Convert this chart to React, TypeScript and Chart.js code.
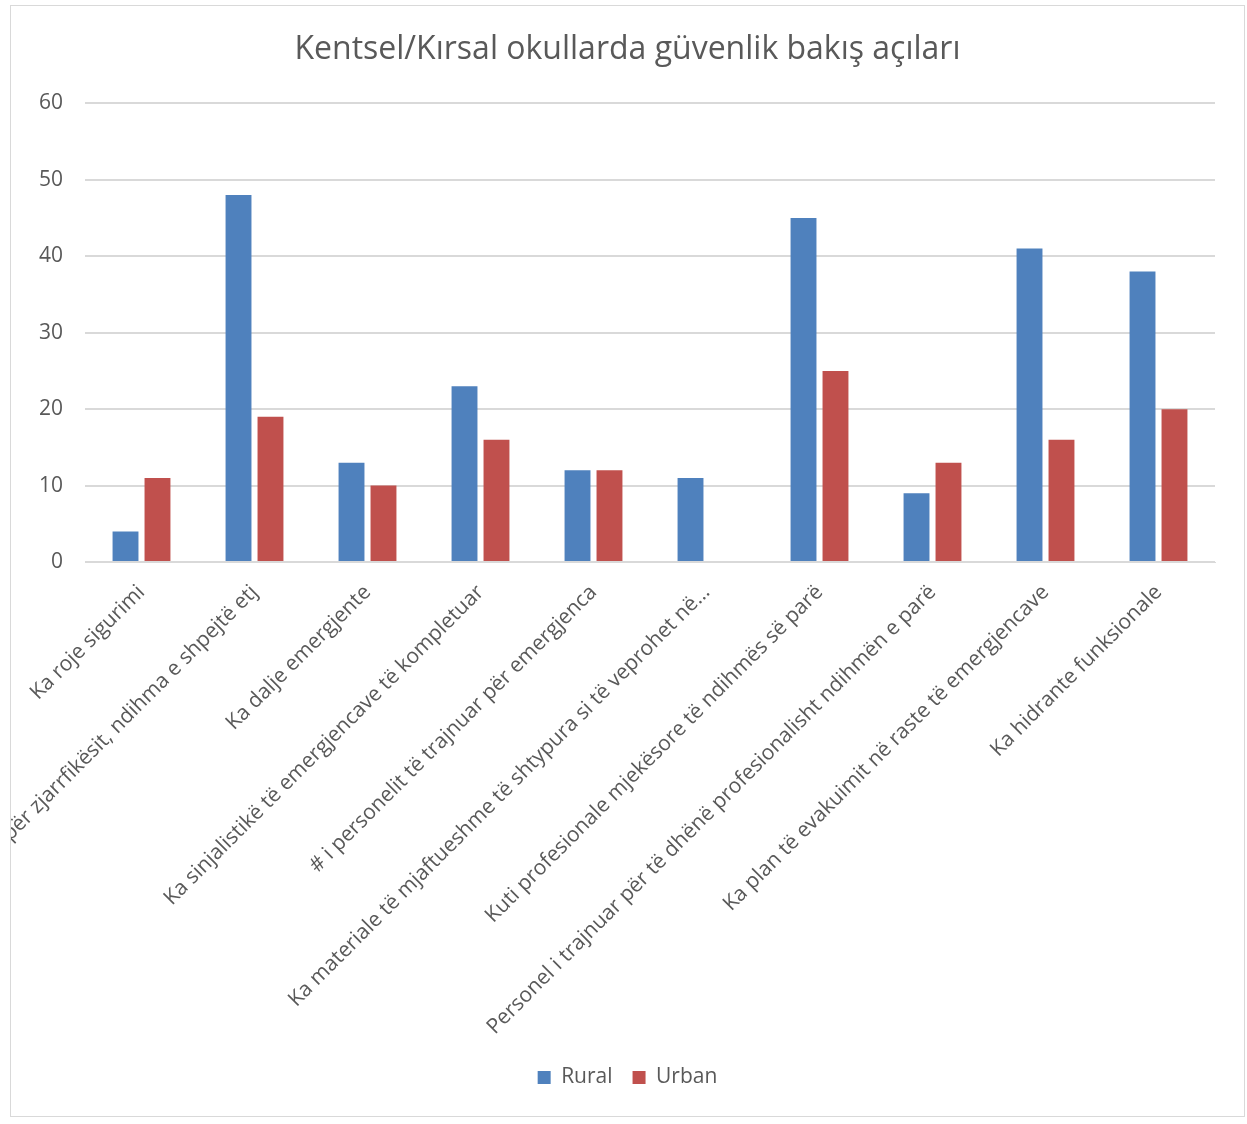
import { useEffect, useRef } from "react";
import { Chart, registerables } from "chart.js";

Chart.register(...registerables);

const chartTitle = "Kentsel/Kırsal okullarda güvenlik bakış açıları";

const categories = [
  "Ka roje sigurimi",
  "Ka numrat e telefonit për zjarrfikësit, ndihma e shpejtë etj",
  "Ka dalje emergjente",
  "Ka sinjalistikë të emergjencave të kompletuar",
  "# i personelit të trajnuar për emergjenca",
  "Ka materiale të mjaftueshme të shtypura si të veprohet në…",
  "Kuti profesionale mjekësore të ndihmës së parë",
  "Personel i trajnuar për të dhënë profesionalisht ndihmën e parë",
  "Ka plan të evakuimit në raste të emergjencave",
  "Ka hidrante funksionale",
];

const ruralValues = [4, 48, 13, 23, 12, 11, 45, 9, 41, 38];
const urbanValues = [11, 19, 10, 16, 12, 0, 25, 13, 16, 20];

const yTicks = [0, 10, 20, 30, 40, 50, 60];

const FONT = "'Open Sans', 'Noto Sans', sans-serif";
const TEXT = "#595959";
const GRID = "#d9d9d9";

export default function App() {
  const ref = useRef<HTMLCanvasElement>(null);

  useEffect(() => {
    const canvas = ref.current;
    if (!canvas) return;
    const chart = new Chart(canvas, {
      type: "bar",
      data: {
        labels: categories,
        datasets: [
          {
            label: "Rural",
            data: ruralValues,
            backgroundColor: "#4F81BD",
            categoryPercentage: 0.566,
            barPercentage: 0.81,
          },
          {
            label: "Urban",
            data: urbanValues,
            backgroundColor: "#C0504D",
            categoryPercentage: 0.566,
            barPercentage: 0.81,
          },
        ],
      },
      options: {
        responsive: false,
        animation: false,
        layout: { padding: { left: 0, right: 0, top: 0, bottom: 18 } },
        plugins: {
          tooltip: { enabled: false },
          title: {
            display: true,
            text: chartTitle,
            color: TEXT,
            font: { family: FONT, size: 32, weight: "normal" },
            padding: { top: 25, bottom: 34 },
          },
          legend: {
            position: "bottom",
            labels: {
              color: TEXT,
              font: { family: FONT, size: 21 },
              boxWidth: 13,
              boxHeight: 13,
              padding: 20,
            },
          },
        },
        scales: {
          x: {
            grid: { display: false },
            border: { display: true, color: GRID },
            ticks: {
              color: TEXT,
              font: { family: FONT, size: 21 },
              minRotation: 45,
              maxRotation: 45,
              autoSkip: false,
              padding: 10,
            },
            afterFit: (scale: any) => {
              scale.height = 485;
              scale.paddingRight = 29;
            },
          },
          y: {
            min: 0,
            max: 60,
            grid: { color: GRID, lineWidth: 2, drawTicks: false },
            border: { display: false },
            ticks: {
              color: TEXT,
              font: { family: FONT, size: 21 },
              padding: 22,
            },
            afterBuildTicks: (scale: any) => {
              scale.ticks = yTicks.map((v) => ({ value: v }));
            },
            afterFit: (scale: any) => {
              scale.width = 74;
            },
          },
        },
      },
    });
    return () => chart.destroy();
  }, []);

  return (
    <div
      style={{
        position: "absolute",
        left: 10,
        top: 5,
        width: 1235,
        height: 1112,
        border: "1px solid #d9d9d9",
        boxSizing: "border-box",
        background: "#fff",
        overflow: "hidden",
      }}
    >
      <canvas ref={ref} width={1233} height={1110} style={{ display: "block" }} />
    </div>
  );
}
